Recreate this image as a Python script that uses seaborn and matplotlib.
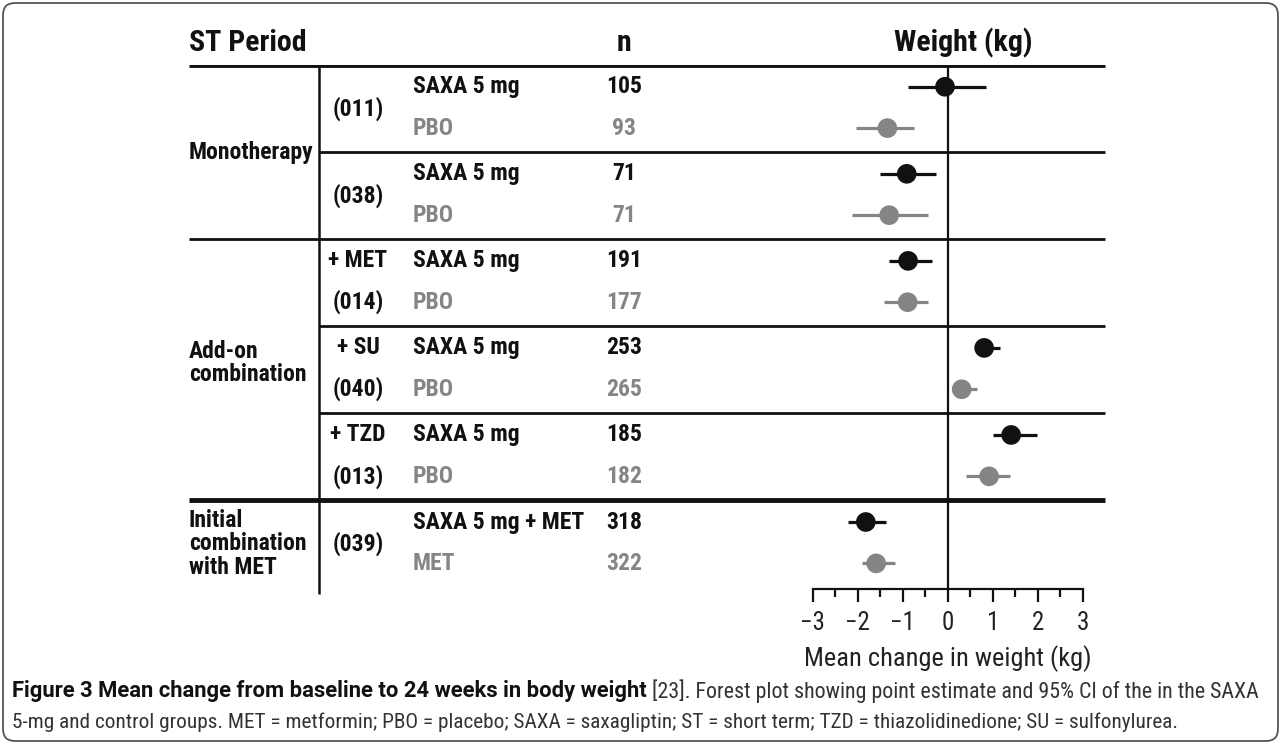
import matplotlib
matplotlib.use("Agg")
import matplotlib.pyplot as plt
import matplotlib.patches as mpatches
import matplotlib.transforms as mtransforms
import numpy as np
import pandas as pd
import seaborn as sns

# rows, top to bottom
arms = ["SAXA 5 mg", "PBO", "SAXA 5 mg", "PBO", "SAXA 5 mg", "PBO",
        "SAXA 5 mg", "PBO", "SAXA 5 mg", "PBO", "SAXA 5 mg + MET", "MET"]
groups = ["SAXA", "control"] * 6
n_values = [105, 93, 71, 71, 191, 177, 253, 265, 185, 182, 318, 322]
means = [-0.06, -1.34, -0.91, -1.30, -0.88, -0.89, 0.81, 0.31, 1.41, 0.92, -1.82, -1.59]
ci_low = [-0.89, -2.04, -1.50, -2.13, -1.30, -1.42, 0.60, 0.12, 1.01, 0.41, -2.22, -1.91]
ci_high = [0.84, -0.76, -0.25, -0.44, -0.36, -0.43, 1.16, 0.66, 1.98, 1.38, -1.38, -1.17]

study_labels = ["(011)", "(038)", "+ MET\n(014)", "+ SU\n(040)", "+ TZD\n(013)", "(039)"]
period_labels = ["Monotherapy", "Add-on\ncombination", "Initial\ncombination\nwith MET"]
period_blocks = [(0, 2), (2, 5), (5, 6)]

caption_bold = "Figure 3 Mean change from baseline to 24 weeks in body weight"
caption_rest = (" [23]. Forest plot showing point estimate and 95% CI of the in the SAXA")
caption_line2 = ("5-mg and control groups. MET = metformin; PBO = placebo; SAXA = saxagliptin; "
                 "ST = short term; TZD = thiazolidinedione; SU = sulfonylurea.")

sns.set_style("white")
plt.rcParams['font.family'] = ['Roboto Condensed', 'DejaVu Sans']
plt.rcParams['axes.unicode_minus'] = True

black = "#111111"
grey = "#858585"
colors = {"SAXA": black, "control": grey}

# each block = 2 units, rows at +0.5 and +1.45
block = np.repeat(np.arange(6), 2)
slot = np.tile([0.5, 1.45], 6)
df = pd.DataFrame({"y": block * 2 + slot, "mean": means, "lo": ci_low, "hi": ci_high,
                   "group": groups, "arm": arms, "n": n_values})

W, H = 1281, 744
fig = plt.figure(figsize=(W / 100, H / 100), dpi=100)
y_top, y_bot = 65, 596
ymax = 12.2

# table axes: x in pixels, y in row units
tab = fig.add_axes([0, (H - y_bot) / H, 1, (y_bot - y_top) / H])
tab.set_xlim(0, W)
tab.set_ylim(ymax, 0)
tab.axis("off")

# forest axes
ax = fig.add_axes([790.2 / W, (H - y_bot) / H, 315 / W, (y_bot - y_top) / H])
ax.set_xlim(-3.5, 3.5)
ax.set_ylim(ymax, 0)
ax.patch.set_alpha(0)

ax.hlines(df["y"], df["lo"], df["hi"], colors=[colors[g] for g in df["group"]], lw=2.3, zorder=2)
sns.scatterplot(data=df, x="mean", y="y", hue="group", palette=colors, s=200, linewidth=0,
                legend=False, ax=ax, zorder=3)
ax.vlines(0, 0, 12.05, color=black, lw=1.6, zorder=1)

for s in ["left", "top", "right"]:
    ax.spines[s].set_visible(False)
ax.spines["bottom"].set_position(("data", 12.05))
ax.spines["bottom"].set_bounds(-3, 3)
ax.spines["bottom"].set_linewidth(1.6)
ax.spines["bottom"].set_color(black)
ax.set_xticks(range(-3, 4))
ax.set_xticks(np.arange(-2.5, 3, 1.0), minor=True)
ax.set_yticks([])
ax.tick_params(axis="x", which="major", direction="out", length=9.5, width=1.6, color=black,
               labelsize=18, pad=6, labelcolor="#222222", bottom=True)
ax.tick_params(axis="x", which="minor", direction="out", length=5.5, width=1.6, color=black, bottom=True)
ax.set_xlabel("Mean change in weight (kg)", fontsize=19, color="#222222", labelpad=7)
ax.set_ylabel("")

# table rules
x_left, x_mid, x_right = 189, 319, 1105
tab.hlines(0, x_left, x_right, color=black, lw=3.5)
tab.hlines(10, x_left, x_right, color=black, lw=3.5)
tab.hlines(4, x_left, x_right, color=black, lw=2.0)
for yb in [2, 6, 8]:
    tab.hlines(yb, x_mid, x_right, color=black, lw=2.0)
tab.vlines(x_mid, 0, 12.15, color=black, lw=1.8)

# headers
hdr = dict(fontsize=21.5, fontweight="bold", color=black, va="center")
tab.text(x_left, -0.5, "ST Period", ha="left", **hdr)
tab.text(624, -0.5, "n", ha="center", **hdr)
tab.text(963, -0.5, "Weight (kg)", ha="center", **hdr)

cell = dict(fontsize=17, fontweight="bold", va="center")
for (b0, b1), lab in zip(period_blocks, period_labels):
    yc = (b0 + b1) + (-0.15 if lab.startswith("Add") else 0.0)
    tab.text(x_left, yc, lab, ha="left", color=black, linespacing=1.02, **cell)

for b, lab in enumerate(study_labels):
    parts = lab.split("\n")
    if len(parts) == 1:
        tab.text(358, 2 * b + 1, parts[0], ha="center", color=black, **cell)
    else:
        tab.text(358, 2 * b + 0.5, parts[0], ha="center", color=black, **cell)
        tab.text(358, 2 * b + 1.45, parts[1], ha="center", color=black, **cell)

for _, r in df.iterrows():
    c = colors[r["group"]]
    tab.text(413, r["y"], r["arm"], ha="left", color=c, **cell)
    tab.text(624, r["y"], str(r["n"]), ha="center", color=c, **cell)

# caption
t1 = fig.text(12 / W, 1 - 691 / H, caption_bold, fontsize=15.8, fontweight="bold",
              family=["Roboto", "DejaVu Sans"], color=black, va="center", ha="left")
tab.annotate(caption_rest, xy=(1, 0.5), xycoords=t1, va="center", ha="left",
             fontsize=15.8, color="#333333", annotation_clip=False)
fig.text(12 / W, 1 - 722 / H, caption_line2, fontsize=15.3, color="#333333", va="center", ha="left")

# rounded frame
frame = mpatches.FancyBboxPatch((3, 3), W - 6, H - 6, boxstyle="round,pad=0,rounding_size=12",
                                transform=mtransforms.IdentityTransform(), fill=False,
                                ec="#555555", lw=1.3)
fig.add_artist(frame)

fig.savefig("out.png", dpi=100)
